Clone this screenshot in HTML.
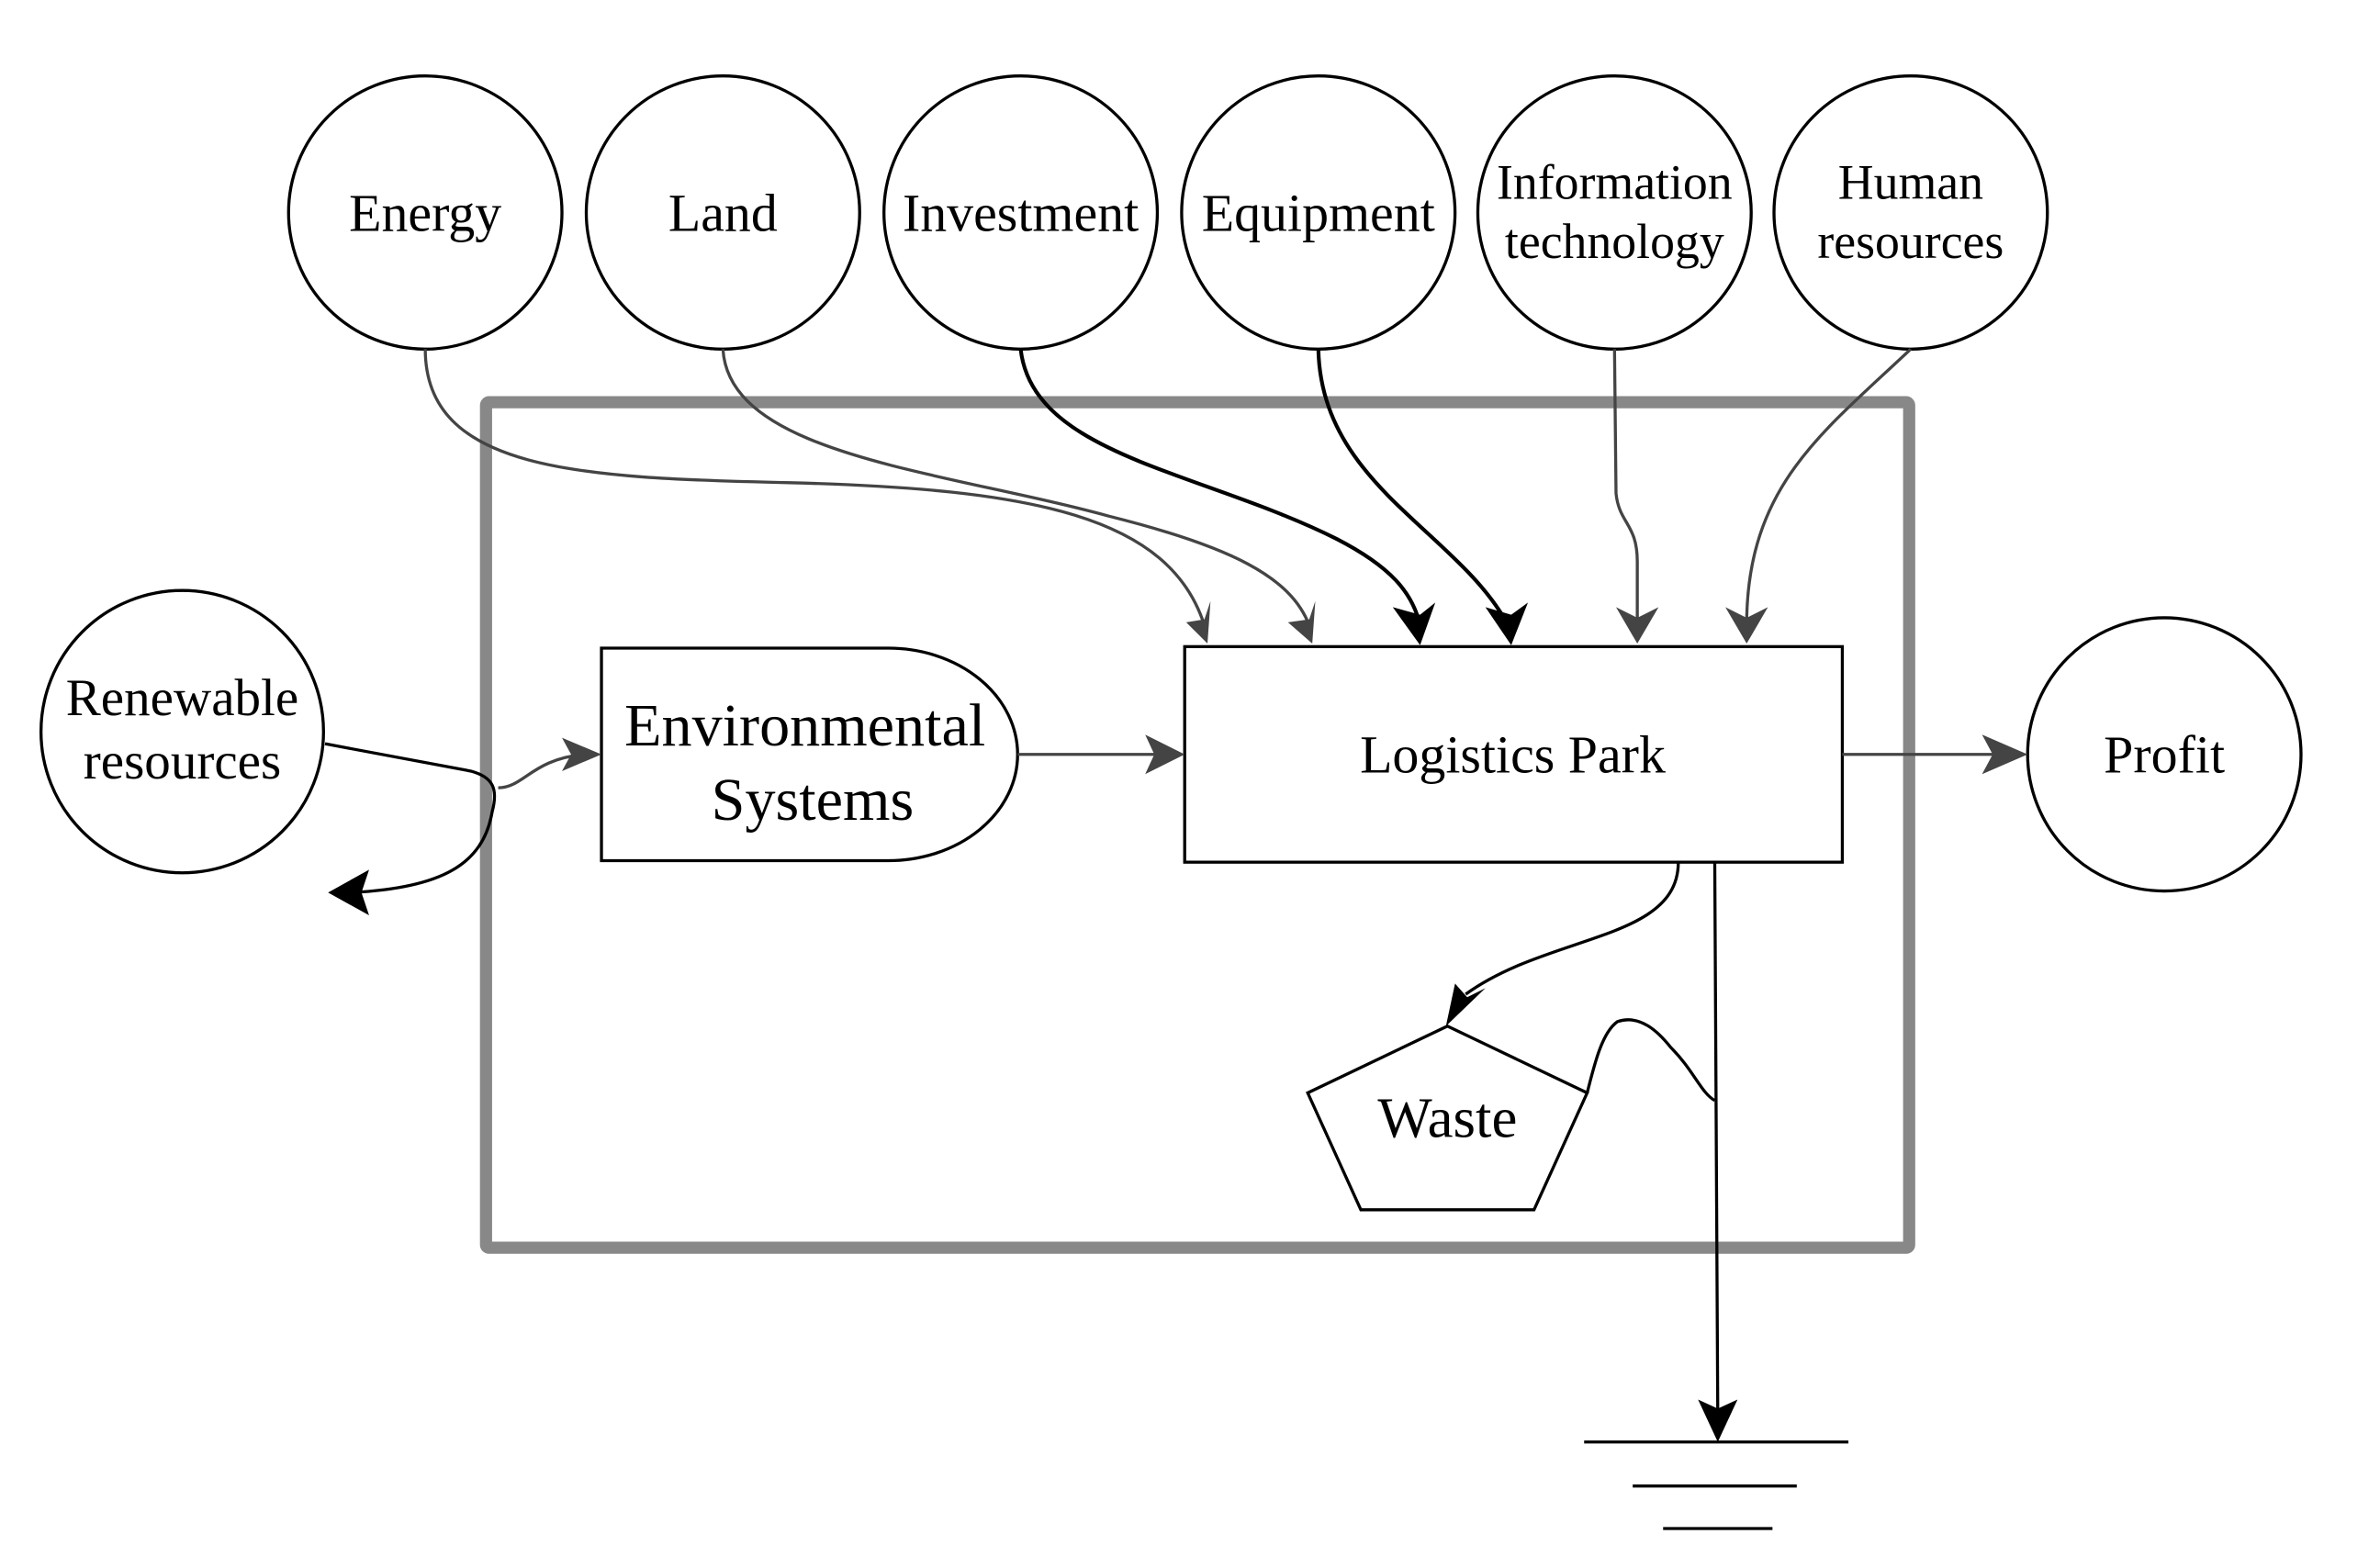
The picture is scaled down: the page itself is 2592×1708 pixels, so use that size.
<!DOCTYPE html>
<html><head><style>html,body{margin:0;padding:0;background:#fff}svg{display:block}</style></head>
<body>
<svg width="2592" height="1708" viewBox="0 0 1567 1033" preserveAspectRatio="none" xmlns="http://www.w3.org/2000/svg" font-family="Liberation Serif, serif">
<rect x="320" y="265" width="937" height="557" fill="none" stroke="#888" stroke-width="8" rx="2"/>
<g fill="none" stroke="#000" stroke-width="2">
<circle cx="280" cy="140" r="90"/><circle cx="476" cy="140" r="90"/><circle cx="672" cy="140" r="90"/>
<circle cx="868" cy="140" r="90"/><circle cx="1063" cy="140" r="90"/><circle cx="1258" cy="140" r="90"/>
<circle cx="120" cy="482" r="93"/><circle cx="1425" cy="497" r="90"/>
<path d="M585,427 L396,427 L396,567 L585,567 A85,70 0 0 0 585,427"/>
<rect x="780" y="426" width="433" height="142"/>
<path d="M953,676 L1045,720 L1010,797 L896,797 L861,720Z"/>
<path d="M1043,950 H1217 M1075,979 H1183 M1095,1007 H1167"/>
</g>
<g fill="none" stroke="#444" stroke-width="2">
<path d="M280,230 C280,310 380,315 520,318 C680,322 770,340 793,412"/>
<path d="M476,230 C480,300 620,310 730,340 C810,360 850,380 862,412"/>
<path d="M672,230 C680,300 790,310 880,355 C915,373 930,390 935,412" stroke="#000" stroke-width="2.5"/>
<path d="M868,230 C870,320 960,350 993,412" stroke="#000" stroke-width="2.5"/>
<path d="M1063,230 L1064,325 C1066,345 1078,345 1078,370 L1078,412"/>
<path d="M1258,230 C1200,285 1150,320 1150,412"/>
<path d="M670,497 L770,497"/>
<path d="M1213,497 L1325,497"/>
<path d="M328,519 C345,519 350,500 385,497"/>
</g>
<g fill="#444">
<path d="M781,410 L795,424 L797,396 L793,408Z"/>
<path d="M848,410 L864,424 L866,396 L862,408Z"/>
<path d="M917,400 L935,425 L945,397 L935,405Z" fill="#000"/>
<path d="M978,400 L995,425 L1006,397 L995,405Z" fill="#000"/>
<path d="M1064,400 L1078,424 L1092,400 L1078,407Z"/>
<path d="M1136,400 L1150,424 L1164,400 L1150,407Z"/>
<path d="M780,497 L754,484 L760,497 L754,510Z"/>
<path d="M1335,497 L1305,484 L1312,497 L1305,510Z"/>
<path d="M396,497 L370,486 L376,497 L370,508Z"/>
</g>
<g fill="none" stroke="#000" stroke-width="2">
<path d="M214,490 L310,508 C325,512 328,520 324,535 C318,570 290,585 232,588"/>
<path d="M1105,568 C1105,620 1020,615 965,655"/>
<path d="M1129,568 L1131,935"/>
<path d="M1045,720 C1050,700 1055,680 1065,673 C1080,668 1092,680 1100,690 C1115,705 1120,720 1129,725"/>
</g>
<g fill="#000">
<path d="M216,588 L243,573 L238,588 L243,603Z"/>
<path d="M952,676 L958,648 L966,657 L978,651Z"/>
<path d="M1131,950 L1118,922 L1131,928 L1144,922Z"/>
</g>
<g font-size="35" text-anchor="middle" fill="#000">
<text x="280" y="152">Energy</text>
<text x="476" y="152">Land</text>
<text x="672" y="152">Investment</text>
<text x="868" y="152">Equipment</text>
<text x="1063" y="131" font-size="32.5">Information</text>
<text x="1063" y="170" font-size="32.5">technology</text>
<text x="1258" y="131" font-size="32.5">Human</text>
<text x="1258" y="170" font-size="32.5">resources</text>
<text x="120" y="471" font-size="34.5">Renewable</text>
<text x="120" y="513" font-size="34.5">resources</text>
<text x="1425" y="509" font-size="35">Profit</text>
<text x="530" y="491" font-size="40">Environmental</text>
<text x="535" y="540" font-size="40">Systems</text>
<text x="996" y="509" font-size="35">Logistics Park</text>
<text x="953" y="749" font-size="38">Waste</text>
</g>
</svg>
</body></html>
